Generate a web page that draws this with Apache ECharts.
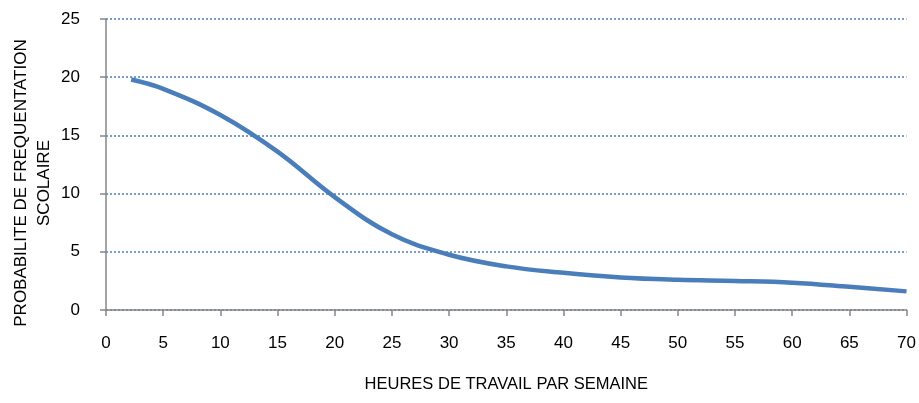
<!DOCTYPE html>
<html>
<head>
<meta charset="utf-8">
<script src="https://cdn.jsdelivr.net/npm/echarts@6/dist/echarts.min.js"></script>
<style>
  html, body { margin: 0; padding: 0; background: #fff; }
  #chart { width: 919px; height: 403px; }
</style>
</head>
<body>
<div id="chart"></div>
<script>
// heures de travail par semaine / probabilite de frequentation scolaire
const hours = [2.2, 5, 10, 15, 20, 25, 30, 35, 40, 45, 50, 55, 60, 65, 70];
const probability = [19.8, 19.0, 16.75, 13.6, 9.7, 6.5, 4.75, 3.75, 3.2, 2.8, 2.6, 2.5, 2.35, 2.0, 1.6];

const xTitle = 'HEURES DE TRAVAIL PAR SEMAINE';
const yTitle = 'PROBABILITE DE FREQUENTATION\nSCOLAIRE';

const axisGray = '#868686';
const font = '"Liberation Sans", Arial, sans-serif';

const chart = echarts.init(document.getElementById('chart'));
chart.setOption({
  animation: false,
  grid: { left: 106, right: 11, top: 19, bottom: 93 },
  xAxis: {
    type: 'value',
    min: 0,
    max: 70,
    interval: 5,
    name: xTitle,
    nameLocation: 'middle',
    nameGap: 66,
    nameTextStyle: { color: '#000', fontSize: 16.5, fontFamily: font },
    axisLine: { lineStyle: { color: axisGray, width: 1.5 } },
    axisTick: { show: true, length: 6, lineStyle: { color: axisGray, width: 1.5 } },
    axisLabel: { color: '#000', fontSize: 17, fontFamily: font, margin: 25 },
    splitLine: { show: false }
  },
  yAxis: {
    type: 'value',
    min: 0,
    max: 25,
    interval: 5,
    axisLine: { show: true, lineStyle: { color: axisGray, width: 1.5 } },
    axisTick: { show: true, length: 6, lineStyle: { color: axisGray, width: 1.5 } },
    axisLabel: { color: '#000', fontSize: 17, fontFamily: font, margin: 26 },
    splitLine: { lineStyle: { color: '#4a7ebb', type: [2, 2], width: 1.5 } }
  },
  graphic: [{
    type: 'text',
    x: 33,
    y: 183,
    rotation: Math.PI / 2,
    style: {
      text: yTitle,
      fill: '#000',
      font: '17px ' + font,
      align: 'center',
      verticalAlign: 'middle',
      lineHeight: 23
    }
  }],
  series: [{
    type: 'line',
    smooth: 0.4,
    showSymbol: false,
    data: hours.map((h, i) => [h, probability[i]]),
    lineStyle: { color: '#4a7ebb', width: 4.5 },
    itemStyle: { color: '#4a7ebb' }
  }]
});
</script>
</body>
</html>
